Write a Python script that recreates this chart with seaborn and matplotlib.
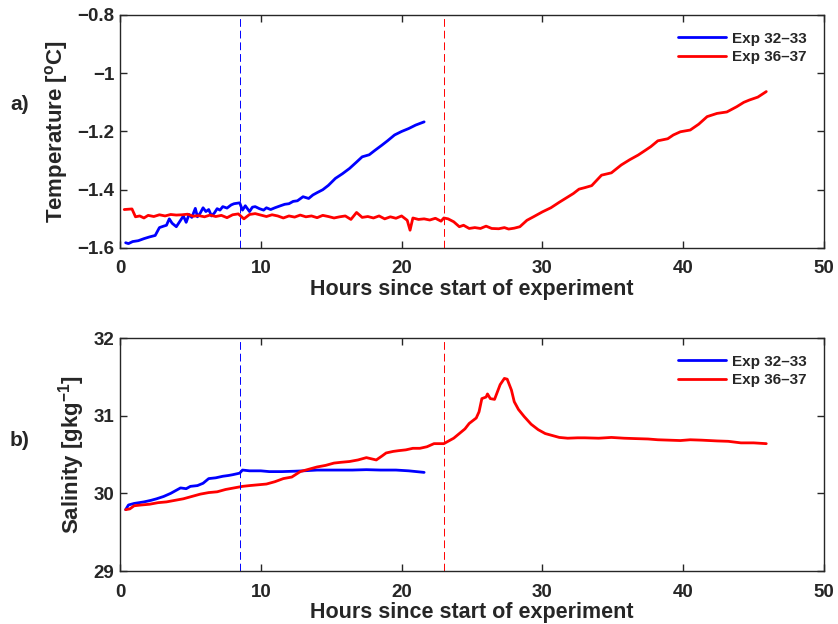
import numpy as np
import pandas as pd
import seaborn as sns
import matplotlib
matplotlib.use("Agg")
import matplotlib.pyplot as plt
from matplotlib.ticker import FuncFormatter, MultipleLocator

# ---------------- data ----------------
labels = ["Exp 32\u201333", "Exp 36\u201337"]
colors = ["#0000ff", "#ff0000"]
vlines = [8.5, 23.0]

t_temp_a = [0.4, 0.6, 0.9, 1.3, 1.7, 2.1, 2.5, 2.8, 3.1, 3.3, 3.5, 3.7, 4.0, 4.3, 4.5, 4.7, 4.9, 5.1,
            5.35, 5.5, 5.7, 5.9, 6.1, 6.3, 6.5, 6.7, 6.9, 7.1, 7.3, 7.6, 7.9, 8.1, 8.5, 8.7, 8.9, 9.2,
            9.4, 9.6, 9.9, 10.2, 10.4, 10.7, 11.0, 11.4, 11.7, 12.0, 12.3, 12.6, 13.0, 13.4, 13.7,
            14.0, 14.4, 14.8, 15.3, 15.8, 16.3, 16.8, 17.2, 17.7, 18.1, 18.6, 19.0, 19.5, 20.0,
            20.5, 21.0, 21.6]
temp_a = [-1.582, -1.585, -1.578, -1.575, -1.568, -1.562, -1.557, -1.530, -1.525, -1.522, -1.500,
          -1.515, -1.527, -1.505, -1.490, -1.512, -1.485, -1.495, -1.464, -1.493, -1.480, -1.462,
          -1.475, -1.468, -1.490, -1.480, -1.465, -1.470, -1.458, -1.463, -1.452, -1.448, -1.445,
          -1.470, -1.455, -1.475, -1.460, -1.458, -1.465, -1.470, -1.462, -1.468, -1.462, -1.455,
          -1.450, -1.448, -1.440, -1.438, -1.424, -1.430, -1.418, -1.410, -1.400, -1.385, -1.361,
          -1.345, -1.327, -1.305, -1.287, -1.280, -1.265, -1.247, -1.232, -1.212, -1.200, -1.190,
          -1.178, -1.167]

t_temp_b = [0.3, 0.85, 1.1, 1.4, 1.7, 2.0, 2.4, 2.8, 3.2, 3.6, 4.0, 4.4, 4.8, 5.2, 5.6, 6.0, 6.4,
            6.8, 7.2, 7.6, 8.0, 8.4, 8.8, 9.2, 9.6, 10.0, 10.4, 10.8, 11.2, 11.6, 12.0, 12.4, 12.8,
            13.2, 13.6, 14.0, 14.4, 14.8, 15.2, 15.6, 16.0, 16.4, 16.8, 17.2, 17.6, 18.0, 18.4,
            18.8, 19.2, 19.6, 20.0, 20.4, 20.6, 20.8, 21.2, 21.6, 22.0, 22.4, 22.8, 23.0, 23.3,
            23.7, 24.1, 24.4, 24.8, 25.2, 25.6, 26.0, 26.4, 26.9, 27.3, 27.6, 28.0, 28.4, 28.9,
            29.4, 30.0, 30.6, 31.2, 31.7, 32.2, 32.6, 33.0, 33.5, 34.2, 34.9, 35.6, 36.2, 36.8,
            37.3, 37.7, 38.2, 38.9, 39.3, 39.8, 40.5, 41.1, 41.7, 42.4, 43.1, 43.8, 44.3, 44.7,
            45.3, 45.9]
temp_b = [-1.468, -1.466, -1.493, -1.490, -1.497, -1.488, -1.492, -1.486, -1.490, -1.485, -1.487,
          -1.486, -1.484, -1.491, -1.489, -1.493, -1.487, -1.492, -1.488, -1.496, -1.486, -1.483,
          -1.500, -1.485, -1.482, -1.487, -1.492, -1.486, -1.490, -1.497, -1.490, -1.494, -1.487,
          -1.493, -1.490, -1.496, -1.488, -1.492, -1.497, -1.493, -1.490, -1.502, -1.478, -1.495,
          -1.492, -1.497, -1.490, -1.500, -1.493, -1.498, -1.490, -1.505, -1.539, -1.497, -1.502,
          -1.500, -1.504, -1.498, -1.508, -1.497, -1.500, -1.510, -1.527, -1.522, -1.533, -1.530,
          -1.533, -1.525, -1.533, -1.534, -1.530, -1.535, -1.532, -1.527, -1.505, -1.492, -1.476,
          -1.462, -1.443, -1.428, -1.413, -1.398, -1.393, -1.386, -1.350, -1.342, -1.315, -1.297,
          -1.281, -1.265, -1.252, -1.232, -1.225, -1.212, -1.201, -1.195, -1.175, -1.149, -1.138,
          -1.133, -1.115, -1.100, -1.092, -1.082, -1.063]

t_sal_a = [0.4, 0.6, 1.0, 1.7, 2.2, 2.6, 3.1, 3.6, 4.0, 4.3, 4.7, 5.0, 5.5, 5.9, 6.3, 6.8, 7.3, 7.7,
           8.0, 8.5, 8.7, 9.2, 10.0, 10.6, 11.5, 12.4, 13.0, 14.0, 15.3, 16.5, 17.5, 18.5, 19.6,
           20.5, 21.6]
sal_a = [29.79, 29.85, 29.87, 29.89, 29.91, 29.93, 29.96, 30.00, 30.04, 30.07, 30.06, 30.09, 30.10,
         30.13, 30.19, 30.20, 30.22, 30.23, 30.24, 30.26, 30.30, 30.29, 30.29, 30.28, 30.28,
         30.285, 30.29, 30.30, 30.30, 30.30, 30.305, 30.30, 30.30, 30.29, 30.27]

t_sal_b = [0.4, 0.7, 1.0, 1.5, 2.1, 2.7, 3.3, 3.9, 4.5, 5.1, 5.7, 6.3, 6.9, 7.5, 8.1, 8.7, 9.2, 9.8,
           10.4, 11.0, 11.6, 12.2, 12.8, 13.4, 14.0, 14.6, 15.2, 15.7, 16.3, 16.9, 17.5, 18.2,
           18.6, 18.9, 19.4, 19.8, 20.3, 20.8, 21.3, 21.8, 22.3, 23.0, 23.4, 23.7, 24.1, 24.5,
           24.8, 25.3, 25.5, 25.7, 26.0, 26.1, 26.3, 26.6, 27.0, 27.3, 27.5, 27.8, 28.0, 28.3,
           28.7, 29.2, 29.7, 30.2, 30.6, 31.2, 31.8, 32.5, 33.0, 34.0, 34.9, 35.8, 36.6, 37.5,
           38.2, 39.0, 39.8, 40.5, 41.3, 42.4, 43.2, 44.1, 45.0, 45.9]
sal_b = [29.79, 29.80, 29.84, 29.85, 29.86, 29.88, 29.89, 29.91, 29.93, 29.96, 29.99, 30.01, 30.02,
         30.05, 30.07, 30.09, 30.10, 30.11, 30.12, 30.15, 30.19, 30.21, 30.28, 30.31, 30.34,
         30.36, 30.39, 30.40, 30.41, 30.43, 30.46, 30.43, 30.48, 30.52, 30.54, 30.55, 30.56,
         30.58, 30.58, 30.60, 30.64, 30.64, 30.68, 30.71, 30.77, 30.83, 30.90, 30.97, 31.05,
         31.22, 31.24, 31.28, 31.22, 31.21, 31.40, 31.48, 31.47, 31.33, 31.18, 31.08, 30.99,
         30.89, 30.82, 30.77, 30.75, 30.72, 30.71, 30.715, 30.715, 30.71, 30.72, 30.71, 30.705,
         30.70, 30.69, 30.685, 30.68, 30.69, 30.685, 30.675, 30.67, 30.65, 30.65, 30.64]

# ---------------- style ----------------
sns.set_style("ticks")
plt.rcParams["font.family"] = ["Liberation Sans", "DejaVu Sans"]
plt.rcParams["font.weight"] = "bold"
plt.rcParams["axes.labelweight"] = "bold"
plt.rcParams["mathtext.fontset"] = "custom"
plt.rcParams["mathtext.rm"] = "Liberation Sans:bold"
plt.rcParams["mathtext.bf"] = "Liberation Sans:bold"
plt.rcParams["mathtext.default"] = "bf"
plt.rcParams["axes.unicode_minus"] = True

df_temp = pd.concat([
    pd.DataFrame({"t": t_temp_a, "v": temp_a, "exp": labels[0]}),
    pd.DataFrame({"t": t_temp_b, "v": temp_b, "exp": labels[1]}),
])
df_sal = pd.concat([
    pd.DataFrame({"t": t_sal_a, "v": sal_a, "exp": labels[0]}),
    pd.DataFrame({"t": t_sal_b, "v": sal_b, "exp": labels[1]}),
])

fig = plt.figure(figsize=(8.38, 6.24), dpi=100)
ax1 = fig.add_axes([0.1432, 0.6026, 0.8401, 0.3734])
ax2 = fig.add_axes([0.1432, 0.0849, 0.8401, 0.3734])

fmt = FuncFormatter(lambda v, p: ("%g" % v).replace("-", "\u2212"))

for ax, df, ylim, ystep, ylabel in [
    (ax1, df_temp, (-1.6, -0.8), 0.2, "Temperature [$^{o}$C]"),
    (ax2, df_sal, (29, 32), 1, "Salinity [gkg$^{-1}$]"),
]:
    sns.lineplot(data=df, x="t", y="v", hue="exp", palette=colors, hue_order=labels,
                 linewidth=2.0, ax=ax, estimator=None, sort=False)
    for xv, c in zip(vlines, colors):
        ax.axvline(xv, color=c, lw=0.7, ls=(0, (8, 4)))
    ax.set_xlim(0, 50)
    ax.set_ylim(*ylim)
    ax.xaxis.set_major_locator(MultipleLocator(10))
    ax.yaxis.set_major_locator(MultipleLocator(ystep))
    ax.yaxis.set_major_formatter(fmt)
    ax.xaxis.set_major_formatter(fmt)
    ax.tick_params(direction="in", top=True, right=True, length=5, width=1,
                   labelsize=13.5)
    ax.tick_params(axis="x", pad=9)
    ax.tick_params(axis="y", pad=4)
    for lab in ax.get_xticklabels() + ax.get_yticklabels():
        lab.set_fontweight("bold")
    for s in ax.spines.values():
        s.set_linewidth(1.0)
    ax.set_xlabel("Hours since start of experiment", fontsize=15.5, labelpad=1)
    ax.set_ylabel(ylabel, fontsize=16, labelpad=5)
    leg = ax.legend(loc="upper right", frameon=False, fontsize=11, handlelength=3.1,
                    handletextpad=0.45, borderaxespad=0.7, labelspacing=0.3)
    for line in leg.get_lines():
        line.set_linewidth(2.0)

fig.text(10 / 838, 1 - 104 / 624, "a)", fontsize=15, fontweight="bold", va="center")
fig.text(10 / 838, 1 - 441 / 624, "b)", fontsize=15, fontweight="bold", va="center")

fig.savefig("out.png", dpi=100)
